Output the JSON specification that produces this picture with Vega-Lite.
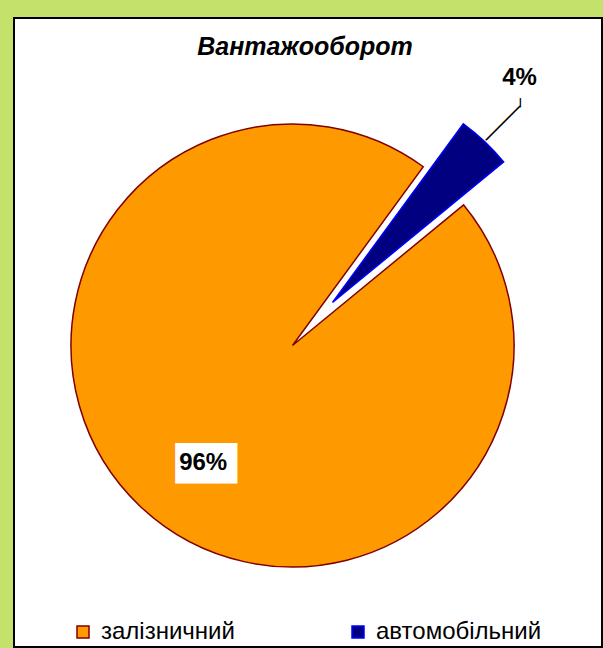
{
  "$schema": "https://vega.github.io/schema/vega-lite/v6.json",
  "width": 588,
  "height": 629,
  "autosize": {"type": "none"},
  "padding": {"left": 14, "top": 18, "right": 1, "bottom": 1},
  "background": "#c4e16b",
  "view": {"fill": "white", "stroke": "black", "strokeWidth": 2},
  "config": {
    "view": {"fill": "white", "stroke": "black", "strokeWidth": 2},
    "font": "Liberation Sans"
  },
  "title": {
    "text": "Вантажооборот",
    "font": "Liberation Sans",
    "fontSize": 25,
    "fontStyle": "italic",
    "fontWeight": "bold",
    "color": "black",
    "anchor": "middle",
    "dy": 46,
    "dx": -3
  },
  "data": {
    "values": [
      {"category": "залізничний", "value": 96, "label": "96%"},
      {"category": "автомобільний", "value": 4, "label": "4%"}
    ]
  },
  "encoding": {
    "theta": {"field": "value", "type": "quantitative", "stack": true, "scale": {"range": [0.6318, 6.915]}},
    "order": {"field": "value", "type": "quantitative", "sort": "ascending"}
  },
  "layer": [
    {
      "mark": {"type": "arc", "radius": 221.5, "xOffset": -15.5, "yOffset": 13, "strokeWidth": 1.5},
      "encoding": {
        "fill": {
          "field": "category", "type": "nominal",
          "scale": {"domain": ["залізничний", "автомобільний"], "range": ["#ff9900", "#000080"]},
          "legend": {
            "orient": "none", "legendX": 57, "legendY": 602, "direction": "horizontal",
            "title": null, "padding": 0, "symbolType": "square", "symbolSize": 144,
            "symbolStrokeWidth": 1.5, "labelFontSize": 24, "labelFont": "Liberation Sans",
            "labelColor": "black", "labelOffset": 6, "columnPadding": 111, "labelLimit": 300
          }
        },
        "stroke": {
          "field": "category", "type": "nominal",
          "scale": {"domain": ["залізничний", "автомобільний"], "range": ["#800000", "#0000ff"]}
        },
        "opacity": {"condition": {"test": "datum.category === 'залізничний'", "value": 1}, "value": 0}
      }
    },
    {
      "mark": {"type": "arc", "radius": 221.5, "xOffset": 24.5, "yOffset": -30, "strokeWidth": 1.5},
      "encoding": {
        "fill": {"field": "category", "type": "nominal"},
        "stroke": {"field": "category", "type": "nominal"},
        "opacity": {"condition": {"test": "datum.category === 'автомобільний'", "value": 1}, "value": 0}
      }
    },
    {
      "mark": {"type": "text", "radius": 146, "xOffset": -15.5, "yOffset": 13, "dx": 14, "dy": 13, "font": "DejaVu Sans Mono", "fontSize": 34, "color": "white", "baseline": "middle", "align": "center"},
      "encoding": {
        "text": {"value": "███"},
        "opacity": {"condition": {"test": "datum.category === 'залізничний'", "value": 1}, "value": 0}
      }
    },
    {
      "mark": {"type": "text", "radius": 146, "xOffset": -15.5, "yOffset": 13, "dx": 11, "dy": 11, "font": "Liberation Sans", "fontSize": 24, "fontWeight": "bold", "color": "black", "baseline": "middle", "align": "center"},
      "encoding": {
        "text": {"field": "label", "type": "nominal"},
        "opacity": {"condition": {"test": "datum.category === 'залізничний'", "value": 1}, "value": 0}
      }
    },
    {
      "mark": {"type": "text", "radius": 350, "xOffset": -15.5, "yOffset": 13, "dx": -13.5, "dy": -13, "font": "Liberation Sans", "fontSize": 24, "fontWeight": "bold", "color": "black", "baseline": "middle", "align": "center"},
      "encoding": {
        "text": {"field": "label", "type": "nominal"},
        "opacity": {"condition": {"test": "datum.category === 'автомобільний'", "value": 1}, "value": 0}
      }
    },
    {
      "mark": {"type": "text", "radius": 350, "xOffset": -45, "yOffset": 45.5, "angle": 315, "font": "DejaVu Sans Mono", "fontSize": 20, "color": "black", "baseline": "middle", "align": "center"},
      "encoding": {
        "text": {"value": "────"},
        "opacity": {"condition": {"test": "datum.category === 'автомобільний'", "value": 1}, "value": 0}
      }
    },
    {
      "mark": {"type": "text", "radius": 350, "xOffset": -28.5, "yOffset": 24.5, "angle": 90, "font": "DejaVu Sans Mono", "fontSize": 15, "color": "black", "baseline": "middle", "align": "center"},
      "encoding": {
        "text": {"value": "─"},
        "opacity": {"condition": {"test": "datum.category === 'автомобільний'", "value": 1}, "value": 0}
      }
    }
  ]
}
